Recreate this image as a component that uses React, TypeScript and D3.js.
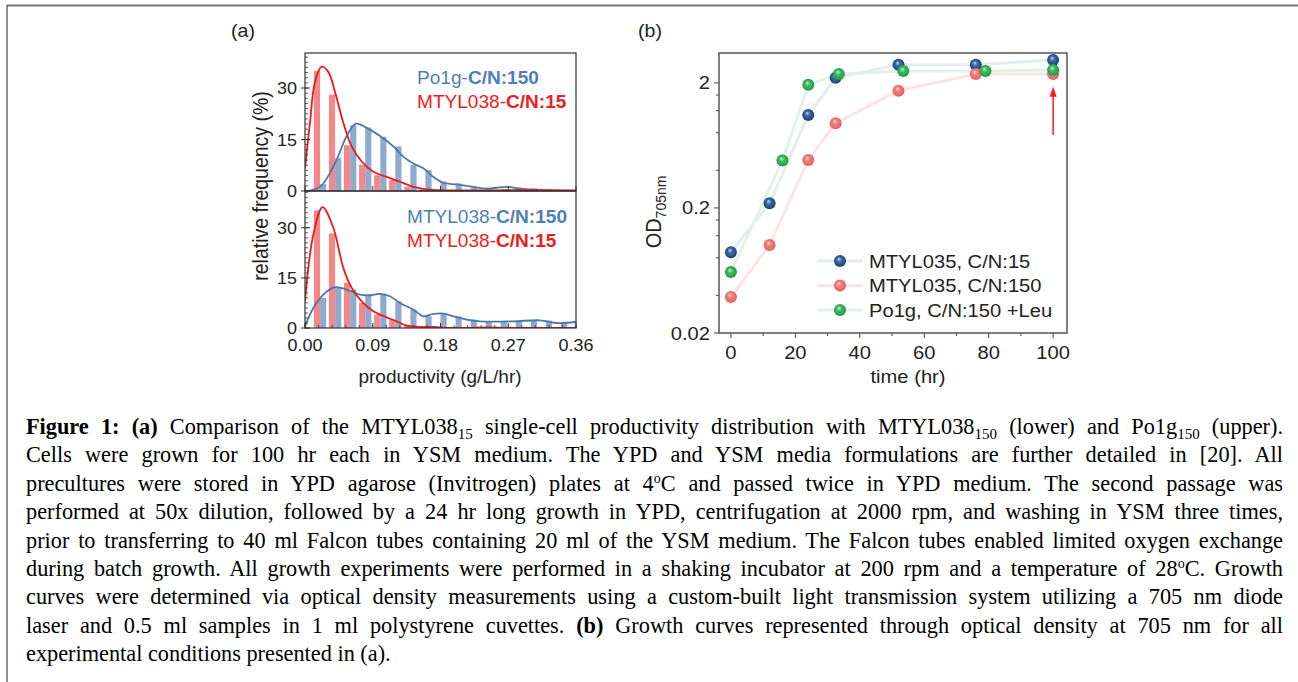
import React, { useEffect, useRef } from 'react';
import * as d3 from 'd3';

// ---------------- DATA ----------------
const binCenters = [0.02, 0.04, 0.06, 0.08, 0.10, 0.12, 0.14, 0.16, 0.18, 0.20, 0.22, 0.24, 0.26, 0.28, 0.30, 0.32, 0.34];
const upperRedBars = [35.0, 28.1, 13.3, 7.6, 4.6, 3.2, 1.2, 0.5, 0.3, 0.2, 0.2, 0.2, 0.2, 0.2, 0.3, 0.3, 0.2];
const upperBlueBars = [2.0, 9.6, 19.2, 18.5, 15.8, 13.0, 7.6, 6.1, 2.7, 2.2, 1.0, 0.8, 0.6, 1.0, 0.8, 0.5, 0.3];
const lowerRedBars = [35.2, 28.3, 13.5, 7.5, 4.0, 2.5, 1.0, 0.6, 0.3, 0.3, 0.2, 0.2, 0.3, 0.2, 0.2, 0.2, 0.2];
const lowerBlueBars = [9.0, 12.0, 11.5, 10.0, 10.2, 8.0, 5.5, 3.5, 4.5, 3.5, 2.5, 2.0, 2.0, 2.0, 2.2, 2.2, 1.7];

const upperRedCurve: [number, number][] = [[0, 6.6], [0.0066, 19.9], [0.0133, 31.8], [0.0221, 36.2], [0.031, 34.7], [0.0399, 28.8], [0.0509, 19.9], [0.062, 13.0], [0.0753, 8.6], [0.0908, 5.6], [0.1085, 4.1], [0.1262, 2.7], [0.1439, 1.2], [0.166, 0.4], [0.188, 0.2], [0.25, 0.2], [0.30, 0.3], [0.36, 0.2]];
const upperBlueCurve: [number, number][] = [[0, 0], [0.0199, 1.2], [0.0399, 8.1], [0.0554, 16.0], [0.0677, 19.6], [0.0819, 18.4], [0.0996, 16.0], [0.1173, 13.0], [0.1306, 10.0], [0.1439, 8.0], [0.1572, 6.6], [0.1705, 4.1], [0.1838, 2.4], [0.2015, 1.9], [0.2236, 1.2], [0.2413, 0.7], [0.268, 1.2], [0.2856, 0.7], [0.3122, 0.2], [0.36, 0]];
const lowerRedCurve: [number, number][] = [[0, 8.0], [0.0111, 28.0], [0.0234, 36.2], [0.0376, 30.0], [0.0509, 18.0], [0.062, 12.0], [0.0753, 8.0], [0.0908, 5.0], [0.1085, 3.2], [0.1218, 2.0], [0.135, 0.7], [0.153, 0.3], [0.171, 0.3], [0.19, 0.05], [0.2148, 0.05], [0.2413, 0.2], [0.27, 0.05], [0.36, 0.05]];
const lowerBlueCurve: [number, number][] = [[0, 0.5], [0.0111, 6.0], [0.0244, 10.0], [0.0399, 12.2], [0.0554, 11.5], [0.0731, 10.0], [0.0863, 9.8], [0.0996, 10.2], [0.1129, 9.5], [0.1262, 7.5], [0.1439, 5.5], [0.1572, 3.5], [0.1705, 4.2], [0.1838, 4.3], [0.197, 3.5], [0.2148, 2.5], [0.2325, 2.0], [0.2768, 2.0], [0.3122, 2.3], [0.3343, 1.5], [0.36, 1.8]];

const xTicksA = [0, 0.09, 0.18, 0.27, 0.36];
const yTicksA = [0, 15, 30];

const timeBlue = [0, 12, 24, 32.5, 52, 76, 100];
const odBlue = [0.0885, 0.218, 1.11, 2.2, 2.79, 2.79, 3.05];
const timeRed = [0, 12, 24, 32.5, 52, 76, 100];
const odRed = [0.0388, 0.101, 0.484, 0.953, 1.735, 2.36, 2.36];
const timeGreen = [0, 16, 24, 33.5, 53.5, 79, 100];
const odGreen = [0.0615, 0.479, 1.93, 2.36, 2.49, 2.49, 2.54];
const seriesNames = ['MTYL035, C/N:15', 'MTYL035, C/N:150', 'Po1g, C/N:150 +Leu'];
const arrowTime = 100;
const arrowFrom = 0.767;
const arrowTo = 1.86;

const xTicksB = [0, 20, 40, 60, 80, 100];
const xMinorB = [10, 30, 50, 70, 90];
const yTicksB = [0.02, 0.2, 2];
const yTickLabelsB = ['0.02', '0.2', '2'];

type Seg = { t: string; b?: boolean; sub?: boolean; sup?: boolean };
const captionLines: Seg[][] = [
  [{ t: 'Figure 1:', b: true }, { t: ' ' }, { t: '(a)', b: true }, { t: ' Comparison of the MTYL038' }, { t: '15', sub: true }, { t: ' single-cell productivity distribution with MTYL038' }, { t: '150', sub: true }, { t: ' (lower) and Po1g' }, { t: '150', sub: true }, { t: ' (upper).' }],
  [{ t: 'Cells were grown for 100 hr each in YSM medium. The YPD and YSM media formulations are further detailed in [20]. All' }],
  [{ t: 'precultures were stored in YPD agarose (Invitrogen) plates at 4' }, { t: 'o', sup: true }, { t: 'C and passed twice in YPD medium. The second passage was' }],
  [{ t: 'performed at 50x dilution, followed by a 24 hr long growth in YPD, centrifugation at 2000 rpm, and washing in YSM three times,' }],
  [{ t: 'prior to transferring to 40 ml Falcon tubes containing 20 ml of the YSM medium. The Falcon tubes enabled limited oxygen exchange' }],
  [{ t: 'during batch growth. All growth experiments were performed in a shaking incubator at 200 rpm and a temperature of 28' }, { t: 'o', sup: true }, { t: 'C. Growth' }],
  [{ t: 'curves were determined via optical density measurements using a custom-built light transmission system utilizing a 705 nm diode' }],
  [{ t: 'laser and 0.5 ml samples in 1 ml polystyrene cuvettes. ' }, { t: '(b)', b: true }, { t: ' Growth curves represented through optical density at 705 nm for all' }],
  [{ t: 'experimental conditions presented in (a).' }],
];

// ---------------- LAYOUT ----------------
const W = 1298, H = 682;
const SX = 1.09;
const SANS = '"Liberation Sans", Arial, sans-serif';
const SERIF = '"Liberation Serif", "Times New Roman", serif';
const A = { left: 305, right: 576, top: 53, mid: 191, bottom: 328 };
const B = { left: 719, right: 1067, top: 53, bottom: 333 };
const CAP_LEFT = 26, CAP_RIGHT = 1283, CAP_Y0 = 434, CAP_LH = 28.4, CAP_FS = 22.3;

const RED_BAR = '#f4878a';
const BLUE_BAR = '#8eaacd';
const RED_LINE = '#f21818';
const BLUE_LINE = '#4a78ab';

function T(props: any) {
  const { x, y, rot, children, ...rest } = props;
  const tr = `translate(${x},${y}) scale(${SX},1)${rot ? ' rotate(-90)' : ''}`;
  return (
    <text transform={tr} fontFamily={SANS} {...rest}>
      {children}
    </text>
  );
}

function HistPanel({ top, bottom, yMax, red, blue, redCurve, blueCurve, leg1, leg2, legX, legY, id, minorX }: any) {
  const x = d3.scaleLinear().domain([0, 0.36]).range([A.left, A.right]);
  const y = d3.scaleLinear().domain([0, yMax]).range([bottom, top]);
  const line = d3.line<[number, number]>().x(d => x(d[0])).y(d => y(d[1])).curve(d3.curveCatmullRom.alpha(0.5));
  const bw = x(0.0082) - x(0);
  const minorY = d3.range(0, yMax, 1.5);
  const minorXs = minorX ? d3.range(0, 0.3601, 0.018) : [];
  return (
    <g>
      <defs>
        <clipPath id={id}>
          <rect x={A.left} y={top} width={A.right - A.left} height={bottom - top} />
        </clipPath>
      </defs>
      <g clipPath={`url(#${id})`}>
        {binCenters.map((c, i) => (
          <rect key={'r' + i} x={x(c) - bw} y={y(red[i])} width={bw} height={y(0) - y(red[i])} fill={RED_BAR} />
        ))}
        {binCenters.map((c, i) => (
          <rect key={'b' + i} x={x(c)} y={y(blue[i])} width={bw} height={y(0) - y(blue[i])} fill={BLUE_BAR} />
        ))}
        <path d={line(blueCurve) || ''} fill="none" stroke={BLUE_LINE} strokeWidth={1.8} />
        <path d={line(redCurve) || ''} fill="none" stroke={RED_LINE} strokeWidth={1.8} />
      </g>
      {minorY.map((v: number, i: number) => (
        <line key={'my' + i} x1={A.left} x2={A.left + 3} y1={y(v)} y2={y(v)} stroke="#333" strokeWidth={0.8} />
      ))}
      {minorXs.map((v: number, i: number) => (
        <line key={'mx' + i} x1={x(v)} x2={x(v)} y1={bottom} y2={bottom - 3} stroke="#333" strokeWidth={0.8} />
      ))}
      {xTicksA.map((v, i) => (
        <line key={'tx' + i} x1={x(v)} x2={x(v)} y1={bottom} y2={bottom - 5} stroke="#333" strokeWidth={1} />
      ))}
      {yTicksA.map((v, i) => (
        <g key={'ty' + i}>
          <line x1={A.left - 4} x2={A.left + 5} y1={y(v)} y2={y(v)} stroke="#333" strokeWidth={1} />
          <T x={A.left - 8} y={y(v) + 6} textAnchor="end" fontSize={16.5} fill="#222">{v}</T>
        </g>
      ))}
      <rect x={A.left} y={top} width={A.right - A.left} height={bottom - top} fill="none" stroke="#333" strokeWidth={1.2} />
      <T x={legX} y={legY} fontSize={17.5} fill="#4f7fb6">
        <tspan>{leg1[0]}</tspan><tspan fontWeight="bold">{leg1[1]}</tspan>
      </T>
      <T x={legX} y={legY + 23.5} fontSize={17.5} fill="#f01c1c">
        <tspan>{leg2[0]}</tspan><tspan fontWeight="bold">{leg2[1]}</tspan>
      </T>
    </g>
  );
}

function GrowthPanel() {
  const x = d3.scaleLinear().domain([-3.7, 104.3]).range([B.left, B.right]);
  const y = d3.scaleLog().domain([0.02, 3.47]).range([B.bottom, B.top]);
  const mk = (ts: number[], vs: number[]) =>
    d3.line<number>().x(i => x(ts[i])).y(i => y(vs[i]))(d3.range(ts.length)) || '';
  const series = [
    { t: timeBlue, v: odBlue, grad: 'url(#gBlue)', lc: '#e3edf1' },
    { t: timeRed, v: odRed, grad: 'url(#gRed)', lc: '#fde4e4' },
    { t: timeGreen, v: odGreen, grad: 'url(#gGreen)', lc: '#e2f2e8' },
  ];
  const minorY: number[] = [];
  yTicksB.forEach(d => [2, 4, 6, 8].forEach(k => { const v = d * k; if (v < 3.47) minorY.push(v); }));
  const legY = [261, 285.5, 310];
  return (
    <g>
      <defs>
        <radialGradient id="gBlue" cx="0.5" cy="0.5" r="0.55" fx="0.4" fy="0.32">
          <stop offset="0" stopColor="#c4d8f4" />
          <stop offset="0.35" stopColor="#3d6cab" />
          <stop offset="1" stopColor="#183a6c" />
        </radialGradient>
        <radialGradient id="gRed" cx="0.5" cy="0.5" r="0.55" fx="0.4" fy="0.32">
          <stop offset="0" stopColor="#ffe2e2" />
          <stop offset="0.35" stopColor="#f57f7f" />
          <stop offset="1" stopColor="#e25c5c" />
        </radialGradient>
        <radialGradient id="gGreen" cx="0.5" cy="0.5" r="0.55" fx="0.4" fy="0.32">
          <stop offset="0" stopColor="#cdf5d6" />
          <stop offset="0.35" stopColor="#3dc062" />
          <stop offset="1" stopColor="#1f9242" />
        </radialGradient>
      </defs>
      {series.map((s, i) => (
        <path key={'l' + i} d={mk(s.t, s.v)} fill="none" stroke={s.lc} strokeWidth={3} />
      ))}
      {series.map((s, i) => (
        <g key={'m' + i}>
          {s.t.map((t, j) => (
            <circle key={j} cx={x(t)} cy={y(s.v[j])} r={6} fill={s.grad} />
          ))}
        </g>
      ))}
      <line x1={x(arrowTime)} x2={x(arrowTime)} y1={y(arrowFrom)} y2={y(arrowTo) + 8} stroke="#ff1a1a" strokeWidth={1.5} />
      <path d={`M${x(arrowTime)},${y(arrowTo)} L${x(arrowTime) - 3.5},${y(arrowTo) + 10} L${x(arrowTime) + 3.5},${y(arrowTo) + 10} Z`} fill="#ff1a1a" />
      {xTicksB.map((v, i) => (
        <g key={'xt' + i}>
          <line x1={x(v)} x2={x(v)} y1={B.bottom} y2={B.bottom + 5} stroke="#444" strokeWidth={1} />
          <T x={x(v)} y={B.bottom + 26} textAnchor="middle" fontSize={18.5} fill="#222">{v}</T>
        </g>
      ))}
      {xMinorB.map((v, i) => (
        <line key={'xm' + i} x1={x(v)} x2={x(v)} y1={B.bottom} y2={B.bottom + 3} stroke="#444" strokeWidth={1} />
      ))}
      {yTicksB.map((v, i) => (
        <g key={'yt' + i}>
          <line x1={B.left - 5} x2={B.left} y1={y(v)} y2={y(v)} stroke="#444" strokeWidth={1} />
          <T x={B.left - 9} y={y(v) + 6.5} textAnchor="end" fontSize={18.5} fill="#222">{yTickLabelsB[i]}</T>
        </g>
      ))}
      {minorY.map((v, i) => (
        <line key={'ym' + i} x1={B.left - 3} x2={B.left} y1={y(v)} y2={y(v)} stroke="#444" strokeWidth={1} />
      ))}
      <rect x={B.left} y={B.top} width={B.right - B.left} height={B.bottom - B.top} fill="none" stroke="#555" strokeWidth={1.5} />
      <T x={(B.left + B.right) / 2 + 15} y={383} textAnchor="middle" fontSize={18.5} fill="#222">time (hr)</T>
      <T x={661} y={212} rot textAnchor="middle" fontSize={20} fill="#222">
        OD<tspan fontSize={14} dy={4.5}>705nm</tspan>
      </T>
      {series.map((s, i) => (
        <g key={'lg' + i}>
          <line x1={817} x2={863} y1={legY[i]} y2={legY[i]} stroke={s.lc} strokeWidth={3} />
          <circle cx={840} cy={legY[i]} r={6} fill={s.grad} />
          <T x={869} y={legY[i] + 6.7} fontSize={18.5} fill="#222">{seriesNames[i]}</T>
        </g>
      ))}
    </g>
  );
}

function Caption() {
  const ref = useRef<SVGGElement>(null);
  useEffect(() => {
    if (!ref.current) return;
    const target = CAP_RIGHT - CAP_LEFT;
    d3.select(ref.current).selectAll<SVGTextElement, unknown>('text.just').each(function () {
      const el = this;
      const natural = el.getComputedTextLength();
      const spaces = ((el.textContent || '').match(/ /g) || []).length;
      if (natural < target && spaces > 0) {
        el.style.wordSpacing = (target - natural) / spaces + 'px';
      } else {
        el.setAttribute('textLength', String(target));
        el.setAttribute('lengthAdjust', 'spacingAndGlyphs');
      }
    });
  }, []);
  return (
    <g ref={ref} fontFamily={SERIF} fontSize={CAP_FS} fill="#000">
      {captionLines.map((segs, li) => {
        let off = 0;
        return (
          <text key={li} className={li < captionLines.length - 1 ? 'just' : ''} x={CAP_LEFT} y={CAP_Y0 + li * CAP_LH}>
            {segs.map((s, si) => {
              let want = 0;
              if (s.sub) want = 5;
              if (s.sup) want = -8;
              const dy = want - off;
              off = want;
              return (
                <tspan key={si} dy={dy} fontWeight={s.b ? 'bold' : undefined} fontSize={s.sub ? 15 : s.sup ? 14 : undefined}>
                  {s.t}
                </tspan>
              );
            })}
          </text>
        );
      })}
    </g>
  );
}

export default function App() {
  return (
    <svg width={W} height={H} style={{ position: 'absolute', left: 0, top: 0, background: '#fff' }}>
      <rect width={W} height={H} fill="#fff" />
      <line x1={7} x2={W} y1={5.5} y2={5.5} stroke="#777" strokeWidth={2} />
      <line x1={7} x2={7} y1={5} y2={H} stroke="#444" strokeWidth={1.2} />
      <T x={243} y={37} textAnchor="middle" fontSize={18} fill="#222">(a)</T>
      <T x={650} y={37} textAnchor="middle" fontSize={18} fill="#222">(b)</T>
      <HistPanel id="clipU" top={A.top} bottom={A.mid} yMax={40.2} red={upperRedBars} blue={upperBlueBars}
        redCurve={upperRedCurve} blueCurve={upperBlueCurve} leg1={['Po1g-', 'C/N:150']} leg2={['MTYL038-', 'C/N:15']}
        legX={417} legY={84} minorX={false} />
      <HistPanel id="clipL" top={A.mid} bottom={A.bottom} yMax={41} red={lowerRedBars} blue={lowerBlueBars}
        redCurve={lowerRedCurve} blueCurve={lowerBlueCurve} leg1={['MTYL038-', 'C/N:150']} leg2={['MTYL038-', 'C/N:15']}
        legX={407} legY={223} minorX={true} />
      {xTicksA.map((v, i) => (
        <T key={i} x={A.left + (A.right - A.left) * (v / 0.36)} y={351} textAnchor="middle" fontSize={16.5} fill="#222">{v.toFixed(2)}</T>
      ))}
      <T x={440} y={383} textAnchor="middle" fontSize={17.5} fill="#222">productivity (g/L/hr)</T>
      <T x={268} y={186} rot textAnchor="middle" fontSize={19.5} fill="#222">relative frequency (%)</T>
      <GrowthPanel />
      <Caption />
    </svg>
  );
}
